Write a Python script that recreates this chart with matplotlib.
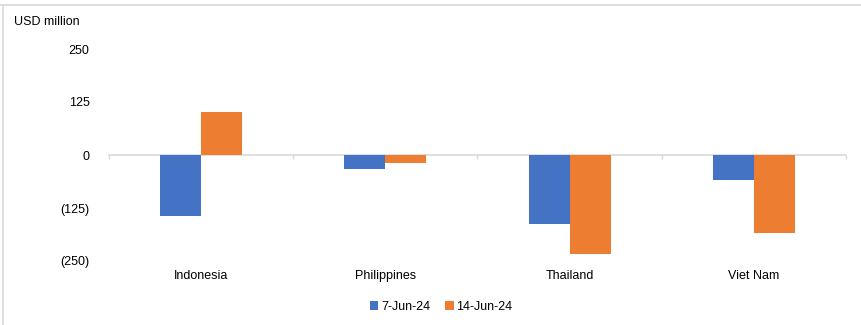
import matplotlib.pyplot as plt
import numpy as np
from matplotlib.lines import Line2D
from matplotlib.ticker import FuncFormatter
import matplotlib.transforms as mtransforms

plt.rcParams['font.family'] = ['Liberation Sans', 'DejaVu Sans']

# data (USD million)
countries = ['Indonesia', 'Philippines', 'Thailand', 'Viet Nam']
week1_label = '7-Jun-24'
week2_label = '14-Jun-24'
week1 = [-144, -34, -163, -58]
week2 = [101, -18, -234, -185]

blue = '#4472C4'
orange = '#ED7D31'
grid_gray = '#D9D9D9'

fig = plt.figure(figsize=(8.61, 3.25), dpi=100)
ax = fig.add_axes([109 / 861, 1 - 261 / 325, (846 - 109) / 861, (261 - 49) / 325])

x = np.arange(len(countries))
w = 0.223
ax.bar(x - w / 2, week1, width=w, color=blue, label=week1_label, zorder=3)
ax.bar(x + w / 2, week2, width=w, color=orange, label=week2_label, zorder=3)

ax.set_xlim(-0.5, len(countries) - 0.5)
ax.set_ylim(-250, 250)
ax.set_yticks([-250, -125, 0, 125, 250])
ax.yaxis.set_major_formatter(FuncFormatter(lambda v, p: f'({abs(int(v))})' if v < 0 else f'{int(v)}'))
ax.tick_params(axis='y', length=0, pad=14, labelsize=9, colors='#000000')

# category axis sits on zero, ticks at category boundaries
for s in ['top', 'right', 'left']:
    ax.spines[s].set_visible(False)
ax.spines['bottom'].set_position(('data', 0))
ax.spines['bottom'].set_color(grid_gray)
ax.spines['bottom'].set_linewidth(1.2)
ax.set_xticks(np.arange(-0.5, len(countries), 1.0))
ax.set_xticklabels([])
ax.tick_params(axis='x', direction='out', length=3, color=grid_gray, width=1)

trans = mtransforms.blended_transform_factory(ax.transData, ax.transAxes)
for i, c in enumerate(countries):
    ax.text(i, -0.07, c, transform=trans, ha='center', va='center', fontsize=9)

fig.text(14 / 861, 1 - 22 / 325, 'USD million', ha='left', va='center', fontsize=9)

fig.legend(loc='center', bbox_to_anchor=(441 / 861, 1 - 307 / 325), ncol=2, frameon=False,
           fontsize=9, handlelength=0.7, handleheight=0.7, handletextpad=0.2, columnspacing=1.2)

# chart frame (top and left edges)
fig.add_artist(Line2D([0, 1], [1 - 4.5 / 325, 1 - 4.5 / 325], color=grid_gray, lw=1.2, transform=fig.transFigure))
fig.add_artist(Line2D([2.5 / 861, 2.5 / 861], [0, 1 - 4.5 / 325], color=grid_gray, lw=1.2, transform=fig.transFigure))

fig.savefig('out.png', dpi=100)
